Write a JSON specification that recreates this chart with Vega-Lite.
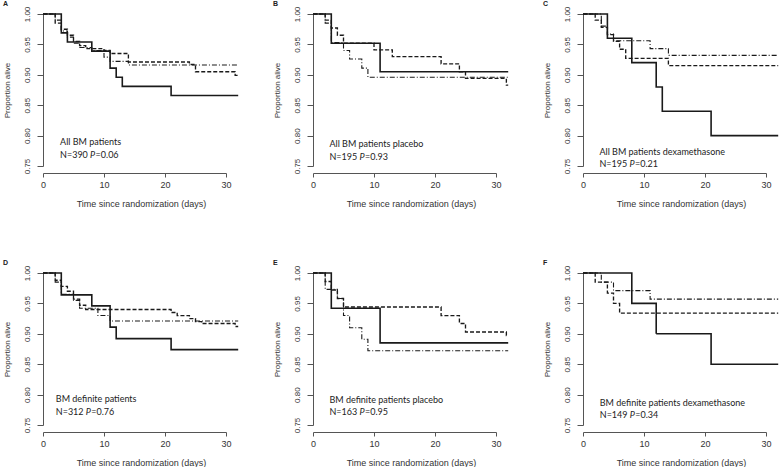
{
"$schema":"https://vega.github.io/schema/vega-lite/v6.json",
"padding":{"left":3,"top":0,"right":0,"bottom":0},
"columns":3,
"bounds":"flush",
"spacing":{"row":107,"column":87},
"datasets":{
"km":[
{"p":"A","g":"solid","t":0,"s":1},{"p":"A","g":"solid","t":3,"s":0.969},{"p":"A","g":"solid","t":4,"s":0.954},{"p":"A","g":"solid","t":8,"s":0.939},{"p":"A","g":"solid","t":11,"s":0.911},{"p":"A","g":"solid","t":12,"s":0.896},{"p":"A","g":"solid","t":13,"s":0.881},{"p":"A","g":"solid","t":21,"s":0.866},{"p":"A","g":"solid","t":32,"s":0.866},
{"p":"A","g":"dashed","t":0,"s":1},{"p":"A","g":"dashed","t":2,"s":0.985},{"p":"A","g":"dashed","t":3,"s":0.975},{"p":"A","g":"dashed","t":4,"s":0.965},{"p":"A","g":"dashed","t":5,"s":0.955},{"p":"A","g":"dashed","t":6,"s":0.948},{"p":"A","g":"dashed","t":7,"s":0.943},{"p":"A","g":"dashed","t":10,"s":0.94},{"p":"A","g":"dashed","t":11,"s":0.935},{"p":"A","g":"dashed","t":14,"s":0.921},{"p":"A","g":"dashed","t":24,"s":0.917},{"p":"A","g":"dashed","t":25,"s":0.905},{"p":"A","g":"dashed","t":31.5,"s":0.899},{"p":"A","g":"dashed","t":32,"s":0.899},
{"p":"A","g":"dotdash","t":0,"s":1},{"p":"A","g":"dotdash","t":2,"s":0.99},{"p":"A","g":"dotdash","t":3,"s":0.972},{"p":"A","g":"dotdash","t":4,"s":0.962},{"p":"A","g":"dotdash","t":5,"s":0.952},{"p":"A","g":"dotdash","t":6,"s":0.945},{"p":"A","g":"dotdash","t":8,"s":0.94},{"p":"A","g":"dotdash","t":10,"s":0.929},{"p":"A","g":"dotdash","t":11,"s":0.922},{"p":"A","g":"dotdash","t":14,"s":0.916},{"p":"A","g":"dotdash","t":32,"s":0.916},
{"p":"B","g":"solid","t":0,"s":1},{"p":"B","g":"solid","t":3,"s":0.952},{"p":"B","g":"solid","t":11,"s":0.905},{"p":"B","g":"solid","t":32,"s":0.905},
{"p":"B","g":"dashed","t":0,"s":1},{"p":"B","g":"dashed","t":2,"s":0.99},{"p":"B","g":"dashed","t":3,"s":0.977},{"p":"B","g":"dashed","t":4,"s":0.965},{"p":"B","g":"dashed","t":5,"s":0.952},{"p":"B","g":"dashed","t":10,"s":0.941},{"p":"B","g":"dashed","t":13,"s":0.93},{"p":"B","g":"dashed","t":21,"s":0.918},{"p":"B","g":"dashed","t":24,"s":0.905},{"p":"B","g":"dashed","t":25,"s":0.894},{"p":"B","g":"dashed","t":31.7,"s":0.883},{"p":"B","g":"dashed","t":32,"s":0.883},
{"p":"B","g":"dotdash","t":0,"s":1},{"p":"B","g":"dotdash","t":2,"s":0.985},{"p":"B","g":"dotdash","t":3,"s":0.953},{"p":"B","g":"dotdash","t":5,"s":0.94},{"p":"B","g":"dotdash","t":6,"s":0.926},{"p":"B","g":"dotdash","t":8,"s":0.911},{"p":"B","g":"dotdash","t":9,"s":0.896},{"p":"B","g":"dotdash","t":32,"s":0.896},
{"p":"C","g":"solid","t":0,"s":1},{"p":"C","g":"solid","t":4,"s":0.96},{"p":"C","g":"solid","t":8,"s":0.92},{"p":"C","g":"solid","t":12,"s":0.88},{"p":"C","g":"solid","t":13,"s":0.84},{"p":"C","g":"solid","t":21,"s":0.8},{"p":"C","g":"solid","t":32,"s":0.8},
{"p":"C","g":"dashed","t":0,"s":1},{"p":"C","g":"dashed","t":2,"s":0.99},{"p":"C","g":"dashed","t":3,"s":0.978},{"p":"C","g":"dashed","t":4,"s":0.966},{"p":"C","g":"dashed","t":5,"s":0.955},{"p":"C","g":"dashed","t":6,"s":0.942},{"p":"C","g":"dashed","t":7,"s":0.927},{"p":"C","g":"dashed","t":14,"s":0.915},{"p":"C","g":"dashed","t":32,"s":0.915},
{"p":"C","g":"dotdash","t":0,"s":1},{"p":"C","g":"dotdash","t":3,"s":0.98},{"p":"C","g":"dotdash","t":4,"s":0.967},{"p":"C","g":"dotdash","t":5,"s":0.956},{"p":"C","g":"dotdash","t":11,"s":0.943},{"p":"C","g":"dotdash","t":14,"s":0.932},{"p":"C","g":"dotdash","t":32,"s":0.932},
{"p":"D","g":"solid","t":0,"s":1},{"p":"D","g":"solid","t":3,"s":0.964},{"p":"D","g":"solid","t":8,"s":0.946},{"p":"D","g":"solid","t":11,"s":0.911},{"p":"D","g":"solid","t":12,"s":0.892},{"p":"D","g":"solid","t":21,"s":0.874},{"p":"D","g":"solid","t":32,"s":0.874},
{"p":"D","g":"dashed","t":0,"s":1},{"p":"D","g":"dashed","t":2,"s":0.988},{"p":"D","g":"dashed","t":3,"s":0.978},{"p":"D","g":"dashed","t":4,"s":0.97},{"p":"D","g":"dashed","t":5,"s":0.957},{"p":"D","g":"dashed","t":6,"s":0.947},{"p":"D","g":"dashed","t":7,"s":0.94},{"p":"D","g":"dashed","t":21,"s":0.935},{"p":"D","g":"dashed","t":22,"s":0.93},{"p":"D","g":"dashed","t":24,"s":0.925},{"p":"D","g":"dashed","t":25,"s":0.92},{"p":"D","g":"dashed","t":26,"s":0.917},{"p":"D","g":"dashed","t":31.5,"s":0.912},{"p":"D","g":"dashed","t":32,"s":0.912},
{"p":"D","g":"dotdash","t":0,"s":1},{"p":"D","g":"dotdash","t":2,"s":0.985},{"p":"D","g":"dotdash","t":3,"s":0.965},{"p":"D","g":"dotdash","t":5,"s":0.955},{"p":"D","g":"dotdash","t":6,"s":0.942},{"p":"D","g":"dotdash","t":9,"s":0.93},{"p":"D","g":"dotdash","t":11,"s":0.921},{"p":"D","g":"dotdash","t":32,"s":0.921},
{"p":"E","g":"solid","t":0,"s":1},{"p":"E","g":"solid","t":3,"s":0.942},{"p":"E","g":"solid","t":11,"s":0.885},{"p":"E","g":"solid","t":32,"s":0.885},
{"p":"E","g":"dashed","t":0,"s":1},{"p":"E","g":"dashed","t":2,"s":0.986},{"p":"E","g":"dashed","t":3,"s":0.972},{"p":"E","g":"dashed","t":4,"s":0.958},{"p":"E","g":"dashed","t":5,"s":0.944},{"p":"E","g":"dashed","t":21,"s":0.93},{"p":"E","g":"dashed","t":24,"s":0.917},{"p":"E","g":"dashed","t":25,"s":0.903},{"p":"E","g":"dashed","t":31.7,"s":0.897},{"p":"E","g":"dashed","t":32,"s":0.897},
{"p":"E","g":"dotdash","t":0,"s":1},{"p":"E","g":"dotdash","t":2,"s":0.973},{"p":"E","g":"dotdash","t":4,"s":0.958},{"p":"E","g":"dotdash","t":5,"s":0.93},{"p":"E","g":"dotdash","t":6,"s":0.91},{"p":"E","g":"dotdash","t":8,"s":0.891},{"p":"E","g":"dotdash","t":9,"s":0.872},{"p":"E","g":"dotdash","t":32,"s":0.872},
{"p":"F","g":"solid","t":0,"s":1},{"p":"F","g":"solid","t":8,"s":0.95},{"p":"F","g":"solid","t":12,"s":0.9},{"p":"F","g":"solid","t":21,"s":0.85},{"p":"F","g":"solid","t":32,"s":0.85},
{"p":"F","g":"dashed","t":0,"s":1},{"p":"F","g":"dashed","t":2,"s":0.985},{"p":"F","g":"dashed","t":4,"s":0.967},{"p":"F","g":"dashed","t":5,"s":0.95},{"p":"F","g":"dashed","t":6,"s":0.934},{"p":"F","g":"dashed","t":32,"s":0.934},
{"p":"F","g":"dotdash","t":0,"s":1},{"p":"F","g":"dotdash","t":3,"s":0.985},{"p":"F","g":"dotdash","t":5,"s":0.971},{"p":"F","g":"dotdash","t":11,"s":0.957},{"p":"F","g":"dotdash","t":32,"s":0.957}
],
"notes":[
{"p":"A","line1":"All BM patients","n":"N=390","pv":"=0.06","t":2.8,"s1":0.789,"s2":0.768},
{"p":"B","line1":"All BM patients placebo","n":"N=195","pv":"=0.93","t":2.7,"s1":0.786,"s2":0.765},
{"p":"C","line1":"All BM patients dexamethasone","n":"N=195","pv":"=0.21","t":2.7,"s1":0.773,"s2":0.753},
{"p":"D","line1":"BM definite patients","n":"N=312","pv":"=0.76","t":2.1,"s1":0.792,"s2":0.771},
{"p":"E","line1":"BM definite patients placebo","n":"N=163","pv":"=0.95","t":2.7,"s1":0.791,"s2":0.772},
{"p":"F","line1":"BM definite patients dexamethasone","n":"N=149","pv":"=0.34","t":2.75,"s1":0.787,"s2":0.766}
]
},
"concat":[
{"title":{"text":"A"},"width":183,"height":152,"layer":[
{"data":{"name":"km"},"transform":[{"filter":"datum.p==='A'"}],"mark":{"type":"line","interpolate":"step-after","color":"#1a1a1a"},"encoding":{"x":{"field":"t","type":"quantitative","scale":{"domain":[0,30],"nice":false,"zero":false},"axis":{"values":[0,10,20,30],"labelOverlap":false,"title":"Time since randomization (days)"}},"y":{"field":"s","type":"quantitative","scale":{"domain":[0.75,1],"nice":false,"zero":false},"axis":{"values":[0.75,0.8,0.85,0.9,0.95,1],"format":".2f","labelOverlap":false,"title":"Proportion alive"}},"strokeDash":{"field":"g","type":"nominal","scale":{"domain":["solid","dashed","dotdash"],"range":[[1,0],[4,2],[5,2,1,2]]},"legend":null},"strokeWidth":{"field":"g","type":"nominal","scale":{"domain":["solid","dashed","dotdash"],"range":[1.6,1.1,1.1]},"legend":null}}},
{"data":{"name":"notes"},"transform":[{"filter":"datum.p==='A'"}],"mark":{"type":"text","align":"left","baseline":"middle","font":"Lato","fontSize":9,"color":"#222"},"encoding":{"x":{"field":"t","type":"quantitative","axis":{"values":[0,10,20,30],"labelOverlap":false,"title":"Time since randomization (days)"}},"y":{"field":"s1","type":"quantitative","axis":{"values":[0.75,0.8,0.85,0.9,0.95,1],"format":".2f","labelOverlap":false,"title":"Proportion alive"}},"text":{"field":"line1"}}},
{"data":{"name":"notes"},"transform":[{"filter":"datum.p==='A'"}],"mark":{"type":"text","align":"left","baseline":"middle","font":"Lato","fontSize":9,"color":"#222"},"encoding":{"x":{"field":"t","type":"quantitative","axis":{"values":[0,10,20,30],"labelOverlap":false,"title":"Time since randomization (days)"}},"y":{"field":"s2","type":"quantitative","axis":{"values":[0.75,0.8,0.85,0.9,0.95,1],"format":".2f","labelOverlap":false,"title":"Proportion alive"}},"text":{"field":"n"}}},
{"data":{"name":"notes"},"transform":[{"filter":"datum.p==='A'"}],"mark":{"type":"text","align":"left","baseline":"middle","font":"Lato","fontSize":9,"fontStyle":"italic","color":"#222","dx":30,"text":"P"},"encoding":{"x":{"field":"t","type":"quantitative","axis":{"values":[0,10,20,30],"labelOverlap":false,"title":"Time since randomization (days)"}},"y":{"field":"s2","type":"quantitative","axis":{"values":[0.75,0.8,0.85,0.9,0.95,1],"format":".2f","labelOverlap":false,"title":"Proportion alive"}}}},
{"data":{"name":"notes"},"transform":[{"filter":"datum.p==='A'"}],"mark":{"type":"text","align":"left","baseline":"middle","font":"Lato","fontSize":9,"color":"#222","dx":35.5},"encoding":{"x":{"field":"t","type":"quantitative","axis":{"values":[0,10,20,30],"labelOverlap":false,"title":"Time since randomization (days)"}},"y":{"field":"s2","type":"quantitative","axis":{"values":[0.75,0.8,0.85,0.9,0.95,1],"format":".2f","labelOverlap":false,"title":"Proportion alive"}},"text":{"field":"pv"}}}
]},
{"title":{"text":"B"},"width":183,"height":152,"layer":[
{"data":{"name":"km"},"transform":[{"filter":"datum.p==='B'"}],"mark":{"type":"line","interpolate":"step-after","color":"#1a1a1a"},"encoding":{"x":{"field":"t","type":"quantitative","scale":{"domain":[0,30],"nice":false,"zero":false},"axis":{"values":[0,10,20,30],"labelOverlap":false,"title":"Time since randomization (days)"}},"y":{"field":"s","type":"quantitative","scale":{"domain":[0.75,1],"nice":false,"zero":false},"axis":{"values":[0.75,0.8,0.85,0.9,0.95,1],"format":".2f","labelOverlap":false,"title":"Proportion alive"}},"strokeDash":{"field":"g","type":"nominal","scale":{"domain":["solid","dashed","dotdash"],"range":[[1,0],[4,2],[5,2,1,2]]},"legend":null},"strokeWidth":{"field":"g","type":"nominal","scale":{"domain":["solid","dashed","dotdash"],"range":[1.6,1.1,1.1]},"legend":null}}},
{"data":{"name":"notes"},"transform":[{"filter":"datum.p==='B'"}],"mark":{"type":"text","align":"left","baseline":"middle","font":"Lato","fontSize":9,"color":"#222"},"encoding":{"x":{"field":"t","type":"quantitative","axis":{"values":[0,10,20,30],"labelOverlap":false,"title":"Time since randomization (days)"}},"y":{"field":"s1","type":"quantitative","axis":{"values":[0.75,0.8,0.85,0.9,0.95,1],"format":".2f","labelOverlap":false,"title":"Proportion alive"}},"text":{"field":"line1"}}},
{"data":{"name":"notes"},"transform":[{"filter":"datum.p==='B'"}],"mark":{"type":"text","align":"left","baseline":"middle","font":"Lato","fontSize":9,"color":"#222"},"encoding":{"x":{"field":"t","type":"quantitative","axis":{"values":[0,10,20,30],"labelOverlap":false,"title":"Time since randomization (days)"}},"y":{"field":"s2","type":"quantitative","axis":{"values":[0.75,0.8,0.85,0.9,0.95,1],"format":".2f","labelOverlap":false,"title":"Proportion alive"}},"text":{"field":"n"}}},
{"data":{"name":"notes"},"transform":[{"filter":"datum.p==='B'"}],"mark":{"type":"text","align":"left","baseline":"middle","font":"Lato","fontSize":9,"fontStyle":"italic","color":"#222","dx":30,"text":"P"},"encoding":{"x":{"field":"t","type":"quantitative","axis":{"values":[0,10,20,30],"labelOverlap":false,"title":"Time since randomization (days)"}},"y":{"field":"s2","type":"quantitative","axis":{"values":[0.75,0.8,0.85,0.9,0.95,1],"format":".2f","labelOverlap":false,"title":"Proportion alive"}}}},
{"data":{"name":"notes"},"transform":[{"filter":"datum.p==='B'"}],"mark":{"type":"text","align":"left","baseline":"middle","font":"Lato","fontSize":9,"color":"#222","dx":35.5},"encoding":{"x":{"field":"t","type":"quantitative","axis":{"values":[0,10,20,30],"labelOverlap":false,"title":"Time since randomization (days)"}},"y":{"field":"s2","type":"quantitative","axis":{"values":[0.75,0.8,0.85,0.9,0.95,1],"format":".2f","labelOverlap":false,"title":"Proportion alive"}},"text":{"field":"pv"}}}
]},
{"title":{"text":"C"},"width":183,"height":152,"layer":[
{"data":{"name":"km"},"transform":[{"filter":"datum.p==='C'"}],"mark":{"type":"line","interpolate":"step-after","color":"#1a1a1a"},"encoding":{"x":{"field":"t","type":"quantitative","scale":{"domain":[0,30],"nice":false,"zero":false},"axis":{"values":[0,10,20,30],"labelOverlap":false,"title":"Time since randomization (days)"}},"y":{"field":"s","type":"quantitative","scale":{"domain":[0.75,1],"nice":false,"zero":false},"axis":{"values":[0.75,0.8,0.85,0.9,0.95,1],"format":".2f","labelOverlap":false,"title":"Proportion alive"}},"strokeDash":{"field":"g","type":"nominal","scale":{"domain":["solid","dashed","dotdash"],"range":[[1,0],[4,2],[5,2,1,2]]},"legend":null},"strokeWidth":{"field":"g","type":"nominal","scale":{"domain":["solid","dashed","dotdash"],"range":[1.6,1.1,1.1]},"legend":null}}},
{"data":{"name":"notes"},"transform":[{"filter":"datum.p==='C'"}],"mark":{"type":"text","align":"left","baseline":"middle","font":"Lato","fontSize":9,"color":"#222"},"encoding":{"x":{"field":"t","type":"quantitative","axis":{"values":[0,10,20,30],"labelOverlap":false,"title":"Time since randomization (days)"}},"y":{"field":"s1","type":"quantitative","axis":{"values":[0.75,0.8,0.85,0.9,0.95,1],"format":".2f","labelOverlap":false,"title":"Proportion alive"}},"text":{"field":"line1"}}},
{"data":{"name":"notes"},"transform":[{"filter":"datum.p==='C'"}],"mark":{"type":"text","align":"left","baseline":"middle","font":"Lato","fontSize":9,"color":"#222"},"encoding":{"x":{"field":"t","type":"quantitative","axis":{"values":[0,10,20,30],"labelOverlap":false,"title":"Time since randomization (days)"}},"y":{"field":"s2","type":"quantitative","axis":{"values":[0.75,0.8,0.85,0.9,0.95,1],"format":".2f","labelOverlap":false,"title":"Proportion alive"}},"text":{"field":"n"}}},
{"data":{"name":"notes"},"transform":[{"filter":"datum.p==='C'"}],"mark":{"type":"text","align":"left","baseline":"middle","font":"Lato","fontSize":9,"fontStyle":"italic","color":"#222","dx":30,"text":"P"},"encoding":{"x":{"field":"t","type":"quantitative","axis":{"values":[0,10,20,30],"labelOverlap":false,"title":"Time since randomization (days)"}},"y":{"field":"s2","type":"quantitative","axis":{"values":[0.75,0.8,0.85,0.9,0.95,1],"format":".2f","labelOverlap":false,"title":"Proportion alive"}}}},
{"data":{"name":"notes"},"transform":[{"filter":"datum.p==='C'"}],"mark":{"type":"text","align":"left","baseline":"middle","font":"Lato","fontSize":9,"color":"#222","dx":35.5},"encoding":{"x":{"field":"t","type":"quantitative","axis":{"values":[0,10,20,30],"labelOverlap":false,"title":"Time since randomization (days)"}},"y":{"field":"s2","type":"quantitative","axis":{"values":[0.75,0.8,0.85,0.9,0.95,1],"format":".2f","labelOverlap":false,"title":"Proportion alive"}},"text":{"field":"pv"}}}
]},
{"title":{"text":"D"},"width":183,"height":152,"layer":[
{"data":{"name":"km"},"transform":[{"filter":"datum.p==='D'"}],"mark":{"type":"line","interpolate":"step-after","color":"#1a1a1a"},"encoding":{"x":{"field":"t","type":"quantitative","scale":{"domain":[0,30],"nice":false,"zero":false},"axis":{"values":[0,10,20,30],"labelOverlap":false,"title":"Time since randomization (days)"}},"y":{"field":"s","type":"quantitative","scale":{"domain":[0.75,1],"nice":false,"zero":false},"axis":{"values":[0.75,0.8,0.85,0.9,0.95,1],"format":".2f","labelOverlap":false,"title":"Proportion alive"}},"strokeDash":{"field":"g","type":"nominal","scale":{"domain":["solid","dashed","dotdash"],"range":[[1,0],[4,2],[5,2,1,2]]},"legend":null},"strokeWidth":{"field":"g","type":"nominal","scale":{"domain":["solid","dashed","dotdash"],"range":[1.6,1.1,1.1]},"legend":null}}},
{"data":{"name":"notes"},"transform":[{"filter":"datum.p==='D'"}],"mark":{"type":"text","align":"left","baseline":"middle","font":"Lato","fontSize":9,"color":"#222"},"encoding":{"x":{"field":"t","type":"quantitative","axis":{"values":[0,10,20,30],"labelOverlap":false,"title":"Time since randomization (days)"}},"y":{"field":"s1","type":"quantitative","axis":{"values":[0.75,0.8,0.85,0.9,0.95,1],"format":".2f","labelOverlap":false,"title":"Proportion alive"}},"text":{"field":"line1"}}},
{"data":{"name":"notes"},"transform":[{"filter":"datum.p==='D'"}],"mark":{"type":"text","align":"left","baseline":"middle","font":"Lato","fontSize":9,"color":"#222"},"encoding":{"x":{"field":"t","type":"quantitative","axis":{"values":[0,10,20,30],"labelOverlap":false,"title":"Time since randomization (days)"}},"y":{"field":"s2","type":"quantitative","axis":{"values":[0.75,0.8,0.85,0.9,0.95,1],"format":".2f","labelOverlap":false,"title":"Proportion alive"}},"text":{"field":"n"}}},
{"data":{"name":"notes"},"transform":[{"filter":"datum.p==='D'"}],"mark":{"type":"text","align":"left","baseline":"middle","font":"Lato","fontSize":9,"fontStyle":"italic","color":"#222","dx":30,"text":"P"},"encoding":{"x":{"field":"t","type":"quantitative","axis":{"values":[0,10,20,30],"labelOverlap":false,"title":"Time since randomization (days)"}},"y":{"field":"s2","type":"quantitative","axis":{"values":[0.75,0.8,0.85,0.9,0.95,1],"format":".2f","labelOverlap":false,"title":"Proportion alive"}}}},
{"data":{"name":"notes"},"transform":[{"filter":"datum.p==='D'"}],"mark":{"type":"text","align":"left","baseline":"middle","font":"Lato","fontSize":9,"color":"#222","dx":35.5},"encoding":{"x":{"field":"t","type":"quantitative","axis":{"values":[0,10,20,30],"labelOverlap":false,"title":"Time since randomization (days)"}},"y":{"field":"s2","type":"quantitative","axis":{"values":[0.75,0.8,0.85,0.9,0.95,1],"format":".2f","labelOverlap":false,"title":"Proportion alive"}},"text":{"field":"pv"}}}
]},
{"title":{"text":"E"},"width":183,"height":152,"layer":[
{"data":{"name":"km"},"transform":[{"filter":"datum.p==='E'"}],"mark":{"type":"line","interpolate":"step-after","color":"#1a1a1a"},"encoding":{"x":{"field":"t","type":"quantitative","scale":{"domain":[0,30],"nice":false,"zero":false},"axis":{"values":[0,10,20,30],"labelOverlap":false,"title":"Time since randomization (days)"}},"y":{"field":"s","type":"quantitative","scale":{"domain":[0.75,1],"nice":false,"zero":false},"axis":{"values":[0.75,0.8,0.85,0.9,0.95,1],"format":".2f","labelOverlap":false,"title":"Proportion alive"}},"strokeDash":{"field":"g","type":"nominal","scale":{"domain":["solid","dashed","dotdash"],"range":[[1,0],[4,2],[5,2,1,2]]},"legend":null},"strokeWidth":{"field":"g","type":"nominal","scale":{"domain":["solid","dashed","dotdash"],"range":[1.6,1.1,1.1]},"legend":null}}},
{"data":{"name":"notes"},"transform":[{"filter":"datum.p==='E'"}],"mark":{"type":"text","align":"left","baseline":"middle","font":"Lato","fontSize":9,"color":"#222"},"encoding":{"x":{"field":"t","type":"quantitative","axis":{"values":[0,10,20,30],"labelOverlap":false,"title":"Time since randomization (days)"}},"y":{"field":"s1","type":"quantitative","axis":{"values":[0.75,0.8,0.85,0.9,0.95,1],"format":".2f","labelOverlap":false,"title":"Proportion alive"}},"text":{"field":"line1"}}},
{"data":{"name":"notes"},"transform":[{"filter":"datum.p==='E'"}],"mark":{"type":"text","align":"left","baseline":"middle","font":"Lato","fontSize":9,"color":"#222"},"encoding":{"x":{"field":"t","type":"quantitative","axis":{"values":[0,10,20,30],"labelOverlap":false,"title":"Time since randomization (days)"}},"y":{"field":"s2","type":"quantitative","axis":{"values":[0.75,0.8,0.85,0.9,0.95,1],"format":".2f","labelOverlap":false,"title":"Proportion alive"}},"text":{"field":"n"}}},
{"data":{"name":"notes"},"transform":[{"filter":"datum.p==='E'"}],"mark":{"type":"text","align":"left","baseline":"middle","font":"Lato","fontSize":9,"fontStyle":"italic","color":"#222","dx":30,"text":"P"},"encoding":{"x":{"field":"t","type":"quantitative","axis":{"values":[0,10,20,30],"labelOverlap":false,"title":"Time since randomization (days)"}},"y":{"field":"s2","type":"quantitative","axis":{"values":[0.75,0.8,0.85,0.9,0.95,1],"format":".2f","labelOverlap":false,"title":"Proportion alive"}}}},
{"data":{"name":"notes"},"transform":[{"filter":"datum.p==='E'"}],"mark":{"type":"text","align":"left","baseline":"middle","font":"Lato","fontSize":9,"color":"#222","dx":35.5},"encoding":{"x":{"field":"t","type":"quantitative","axis":{"values":[0,10,20,30],"labelOverlap":false,"title":"Time since randomization (days)"}},"y":{"field":"s2","type":"quantitative","axis":{"values":[0.75,0.8,0.85,0.9,0.95,1],"format":".2f","labelOverlap":false,"title":"Proportion alive"}},"text":{"field":"pv"}}}
]},
{"title":{"text":"F"},"width":183,"height":152,"layer":[
{"data":{"name":"km"},"transform":[{"filter":"datum.p==='F'"}],"mark":{"type":"line","interpolate":"step-after","color":"#1a1a1a"},"encoding":{"x":{"field":"t","type":"quantitative","scale":{"domain":[0,30],"nice":false,"zero":false},"axis":{"values":[0,10,20,30],"labelOverlap":false,"title":"Time since randomization (days)"}},"y":{"field":"s","type":"quantitative","scale":{"domain":[0.75,1],"nice":false,"zero":false},"axis":{"values":[0.75,0.8,0.85,0.9,0.95,1],"format":".2f","labelOverlap":false,"title":"Proportion alive"}},"strokeDash":{"field":"g","type":"nominal","scale":{"domain":["solid","dashed","dotdash"],"range":[[1,0],[4,2],[5,2,1,2]]},"legend":null},"strokeWidth":{"field":"g","type":"nominal","scale":{"domain":["solid","dashed","dotdash"],"range":[1.6,1.1,1.1]},"legend":null}}},
{"data":{"name":"notes"},"transform":[{"filter":"datum.p==='F'"}],"mark":{"type":"text","align":"left","baseline":"middle","font":"Lato","fontSize":9,"color":"#222"},"encoding":{"x":{"field":"t","type":"quantitative","axis":{"values":[0,10,20,30],"labelOverlap":false,"title":"Time since randomization (days)"}},"y":{"field":"s1","type":"quantitative","axis":{"values":[0.75,0.8,0.85,0.9,0.95,1],"format":".2f","labelOverlap":false,"title":"Proportion alive"}},"text":{"field":"line1"}}},
{"data":{"name":"notes"},"transform":[{"filter":"datum.p==='F'"}],"mark":{"type":"text","align":"left","baseline":"middle","font":"Lato","fontSize":9,"color":"#222"},"encoding":{"x":{"field":"t","type":"quantitative","axis":{"values":[0,10,20,30],"labelOverlap":false,"title":"Time since randomization (days)"}},"y":{"field":"s2","type":"quantitative","axis":{"values":[0.75,0.8,0.85,0.9,0.95,1],"format":".2f","labelOverlap":false,"title":"Proportion alive"}},"text":{"field":"n"}}},
{"data":{"name":"notes"},"transform":[{"filter":"datum.p==='F'"}],"mark":{"type":"text","align":"left","baseline":"middle","font":"Lato","fontSize":9,"fontStyle":"italic","color":"#222","dx":30,"text":"P"},"encoding":{"x":{"field":"t","type":"quantitative","axis":{"values":[0,10,20,30],"labelOverlap":false,"title":"Time since randomization (days)"}},"y":{"field":"s2","type":"quantitative","axis":{"values":[0.75,0.8,0.85,0.9,0.95,1],"format":".2f","labelOverlap":false,"title":"Proportion alive"}}}},
{"data":{"name":"notes"},"transform":[{"filter":"datum.p==='F'"}],"mark":{"type":"text","align":"left","baseline":"middle","font":"Lato","fontSize":9,"color":"#222","dx":35.5},"encoding":{"x":{"field":"t","type":"quantitative","axis":{"values":[0,10,20,30],"labelOverlap":false,"title":"Time since randomization (days)"}},"y":{"field":"s2","type":"quantitative","axis":{"values":[0.75,0.8,0.85,0.9,0.95,1],"format":".2f","labelOverlap":false,"title":"Proportion alive"}},"text":{"field":"pv"}}}
]}
],
"config":{
"view":{"stroke":null},
"title":{"anchor":"start","frame":"bounds","fontSize":7,"fontWeight":"bold","font":"Liberation Sans","color":"#222","offset":-1},
"axis":{"grid":false,"domainColor":"#555","tickColor":"#555","labelColor":"#333","titleColor":"#333","labelFont":"Liberation Sans","titleFont":"Liberation Sans","titleFontWeight":"normal","labelOverlap":false},
"axisX":{"offset":7,"tickSize":4,"labelPadding":3,"titlePadding":10,"labelFontSize":9,"titleFontSize":9,"labelFlush":false,"titleX":98},
"axisY":{"tickSize":6,"labelAngle":270,"labelAlign":"center","labelBaseline":"bottom","labelPadding":6,"titlePadding":12,"labelFontSize":8,"titleFontSize":8}
}
}
